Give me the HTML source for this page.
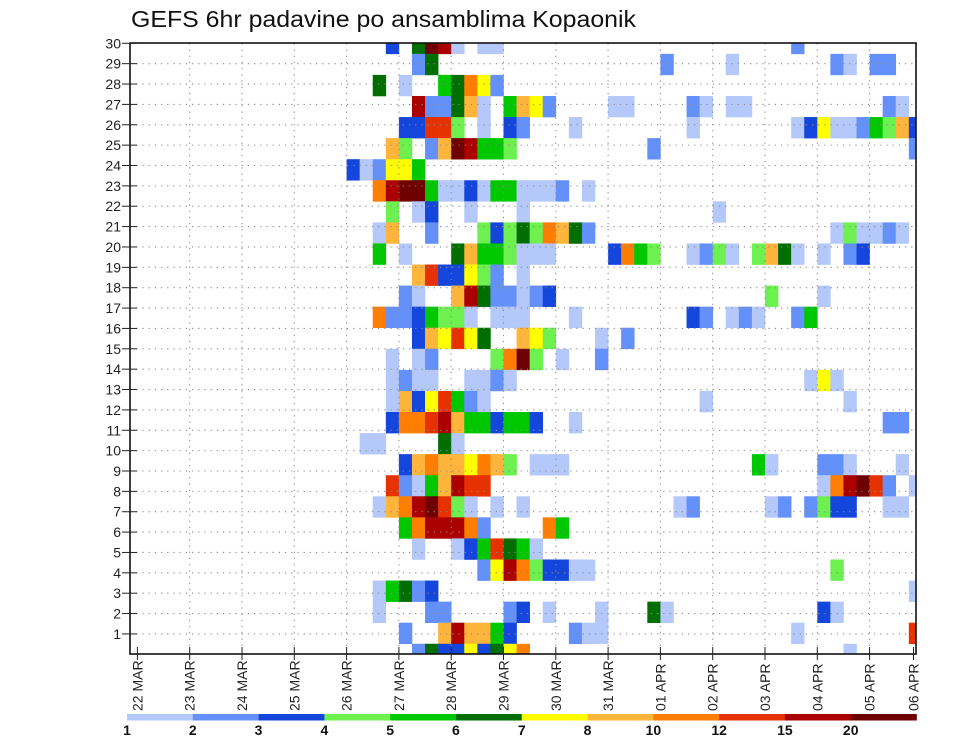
<!DOCTYPE html>
<html><head><meta charset="utf-8">
<style>
html,body{margin:0;padding:0;background:#fff;}
svg{display:block;font-family:"Liberation Sans",sans-serif;}
</style></head>
<body>
<svg id="chart" width="960" height="742" viewBox="0 0 960 742" xmlns="http://www.w3.org/2000/svg">
<rect x="0" y="0" width="960" height="742" fill="#fff"/>
<text x="131" y="27" font-size="23" fill="#111" textLength="505" lengthAdjust="spacingAndGlyphs">GEFS 6hr padavine po ansamblima Kopaonik</text>
<defs><clipPath id="plotclip"><rect x="130" y="43" width="786" height="611"/></clipPath></defs>
<g id="cells" clip-path="url(#plotclip)"></g>
<g id="grid"></g>
<rect x="130" y="43" width="786" height="611" fill="none" stroke="#111" stroke-width="1.6"/>
<g id="axes"></g>
<g id="legend"></g>
</svg>
<script>
// ---- data ----
const dayLabels = ["22 MAR","23 MAR","24 MAR","25 MAR","26 MAR","27 MAR","28 MAR","29 MAR","30 MAR","31 MAR","01 APR","02 APR","03 APR","04 APR","05 APR","06 APR"];
const memberTicks = [1,2,3,4,5,6,7,8,9,10,11,12,13,14,15,16,17,18,19,20,21,22,23,24,25,26,27,28,29,30];
const levelBounds = ["1","2","3","4","5","6","7","8","10","12","15","20"];
const levelColors = ["#b4c8fa","#6490fa","#1446dc","#6ef050","#00c800","#006e00","#ffff00","#ffb43c","#ff7d00","#e63200","#aa0000","#6e0000"];
// each row of cells (top to bottom); entries are "timestep:level" (timestep = 6h step from 22 MAR 00Z, level 1..12)
const cellRows = [
"19:3 21:6 22:12 23:11 24:1 26:1 27:1 50:2",
"21:2 22:6 40:2 45:1 53:2 54:1 56:2 57:2",
"18:6 20:1 23:5 24:6 25:9 26:7 27:2",
"21:11 22:2 23:2 24:6 25:8 26:1 28:5 29:8 30:7 31:2 36:1 37:1 42:2 43:1 45:1 46:1 57:2 58:1",
"20:3 21:3 22:10 23:10 24:4 26:1 28:3 29:2 33:1 42:1 50:1 51:3 52:7 53:1 54:1 55:2 56:5 57:4 58:8 59:3",
"19:8 20:4 22:2 23:8 24:12 25:11 26:5 27:5 28:4 39:2 59:2",
"16:3 17:1 18:2 19:7 20:7 21:5",
"18:9 19:11 20:12 21:12 22:5 23:1 24:1 25:3 26:1 27:5 28:5 29:1 30:1 31:1 32:2 34:1",
"19:4 21:1 22:3 25:1 29:1 44:1",
"18:1 19:8 22:2 26:4 27:3 28:4 29:6 30:4 31:9 32:8 33:6 34:2 53:1 54:4 55:1 56:1 57:2 58:1",
"18:5 20:1 24:6 25:8 26:5 27:5 28:4 29:1 30:1 31:1 36:3 37:9 38:5 39:4 42:1 43:2 44:4 45:1 47:4 48:8 49:6 50:1 52:1 54:2 55:3",
"21:8 22:10 23:3 24:3 25:7 26:4 27:2 29:1",
"20:2 21:1 24:8 25:11 26:6 27:2 28:2 29:1 30:2 31:3 48:4 52:1",
"18:9 19:2 20:2 21:3 22:5 23:4 24:4 25:1 27:1 28:1 29:1 33:1 42:3 43:2 45:1 46:2 47:1 50:2 51:5",
"21:3 22:8 23:7 24:10 25:7 26:6 29:8 30:7 31:4 35:1 37:2",
"19:1 21:1 22:2 27:4 28:9 29:12 30:4 32:1 35:2",
"19:1 20:2 21:1 22:1 25:1 26:1 27:2 28:1 51:1 52:7 53:1",
"19:1 20:8 21:3 22:7 23:10 24:5 25:2 26:1 43:1 54:1",
"19:3 20:9 21:9 22:10 23:11 24:8 25:5 26:5 27:3 28:5 29:5 30:3 33:1 57:2 58:2",
"17:1 18:1 23:6 24:1",
"20:3 21:8 22:9 23:8 24:8 25:7 26:9 27:8 28:4 30:1 31:1 32:1 47:5 48:1 52:2 53:2 54:1 58:1",
"19:10 20:2 21:1 22:5 23:8 24:11 25:10 26:10 52:1 53:9 54:11 55:12 56:10 57:2 59:1",
"18:1 19:8 20:9 21:11 22:12 23:10 24:4 25:1 27:1 29:1 41:1 42:2 48:1 49:2 51:2 52:4 53:3 54:3 57:1 58:1",
"20:5 21:9 22:11 23:11 24:11 25:9 26:2 31:9 32:5",
"21:1 24:1 25:3 26:5 27:10 28:6 29:5 30:1",
"26:2 27:7 28:11 29:9 30:4 31:3 32:3 33:1 34:1 53:4",
"18:1 19:5 20:6 21:2 22:3 59:1",
"18:1 22:2 23:2 28:2 29:3 31:1 35:1 39:6 40:1 52:3 53:1",
"20:2 23:8 24:11 25:8 26:8 27:5 28:3 33:2 34:1 35:1 50:1 59:10",
"21:2 22:6 23:3 24:3 25:7 26:3 27:6 28:7 29:9 54:1"
];
// ---- scales ----
const X0 = 137.4, PX_PER_DAY = 52.3, PLOT_L = 130, PLOT_R = 916, PLOT_T = 43.3, PLOT_B = 654.3;
function xScale(days){ return X0 + days*PX_PER_DAY; }
function yScale(m){ return PLOT_B - m*(PLOT_B-PLOT_T)/30; }
const NS = "http://www.w3.org/2000/svg";
function mk(tag, attrs, parent){ const e=document.createElementNS(NS,tag); for(const k in attrs) e.setAttribute(k,attrs[k]); parent.appendChild(e); return e; }

// ---- cells ----
const cellsG = document.getElementById('cells');
const nRows = cellRows.length;
const rowStep = 30/(nRows-1);
cellRows.forEach((row, k) => {
  const mCenter = 30 - k*rowStep;
  const yTop = yScale(mCenter + rowStep/2), yBot = yScale(mCenter - rowStep/2);
  row.split(' ').forEach(tok => {
    if(!tok) return;
    const [c, lv] = tok.split(':').map(Number);
    const xa = xScale(c*0.25), xb = xScale((c+1)*0.25);
    const r = mk('rect', {x:xa.toFixed(2), y:yTop.toFixed(2), width:(xb-xa+0.3).toFixed(2), height:(yBot-yTop+0.3).toFixed(2), fill:levelColors[lv-1]}, cellsG);
    
    
  });
});

// ---- grid ----
const gridG = document.getElementById('grid');
memberTicks.forEach(m => {
  if(m===30) return;
  const y = yScale(m);
  const l = mk('line', {x1:PLOT_L, x2:PLOT_R, y1:y, y2:y, stroke:'#8a8a8a', 'stroke-width':1.1, 'stroke-dasharray':'1.2,5'}, gridG);
  
  
});
dayLabels.forEach((d, i) => {
  const x = xScale(i);
  if(i===0 || x>=PLOT_R) return;
  const l = mk('line', {x1:x, x2:x, y1:PLOT_T, y2:PLOT_B, stroke:'#8a8a8a', 'stroke-width':1.1, 'stroke-dasharray':'1.2,5'}, gridG);
  
  
});

// ---- axes ----
const axG = document.getElementById('axes');
memberTicks.forEach(m => {
  const y = yScale(m);
  const t = mk('line', {x1:122, x2:137, y1:y, y2:y, stroke:'#222', 'stroke-width':1}, axG);
  
  
  const tx = mk('text', {x:121, y:y+5, 'font-size':14, 'text-anchor':'end', fill:'#222'}, axG);
  tx.textContent = m;
  
  
});
dayLabels.forEach((d, i) => {
  const x = Math.min(xScale(i), 913.5);
  const t = mk('line', {x1:x, x2:x, y1:647, y2:660, stroke:'#222', 'stroke-width':1}, axG);
  
  
  const tx = mk('text', {x:0, y:0, 'font-size':14, 'text-anchor':'start', fill:'#222', transform:`translate(${x+5},711) rotate(-90)`}, axG);
  tx.textContent = d;
  
  
});

// ---- colorbar ----
const lgG = document.getElementById('legend');
const CB_L = 127, CB_R = 916.5, segW = (CB_R-CB_L)/levelColors.length;
levelColors.forEach((col, i) => {
  const r = mk('rect', {x:CB_L+i*segW, y:714, width:segW+0.3, height:6.5, fill:col}, lgG);
  
  
});
levelBounds.forEach((lab, i) => {
  const tx = mk('text', {x:CB_L+i*segW, y:735, 'font-size':14, 'font-weight':'bold', 'text-anchor':'middle', fill:'#111'}, lgG);
  tx.textContent = lab;
  
  
});
</script>
</body></html>
